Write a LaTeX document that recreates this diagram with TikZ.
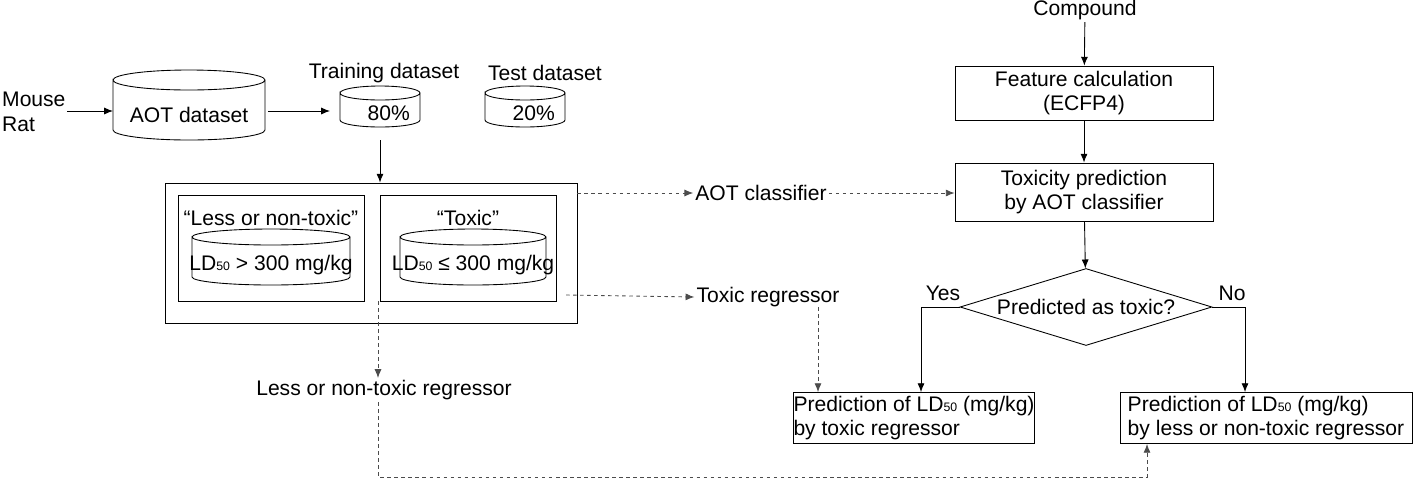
\documentclass[tikz,border=0pt]{standalone}
\usepackage{fontspec}
\setmainfont{Liberation Sans}
\usetikzlibrary{shapes.geometric,arrows.meta}
\newcommand{\mycyl}[7]{% name, cx, cy, w/2, h/2, ry, text
  \draw (#2-#4,#3-#5) arc[start angle=180,end angle=-180,x radius=#4*0.02cm,y radius=#6*0.02cm]
        -- (#2-#4,#3+#5-#6) arc[start angle=180,end angle=360,x radius=#4*0.02cm,y radius=#6*0.02cm]
        -- (#2+#4,#3-#5);
  \node[inner sep=0pt,minimum width=#4*0.04cm,minimum height=#5*0.04cm] (#1) at (#2,#3+#6/2) {#7};}
\begin{document}
\begin{tikzpicture}[x=0.02cm,y=-0.02cm,font=\fontsize{12}{14}\selectfont,
  line width=0.5pt,
  arr/.style={-{Latex[length=5pt,width=4pt]}},
  dsh/.style={arr,dash pattern=on 2pt off 2pt,gray!60!black},
  box/.style={draw,rectangle,inner sep=0pt},
  lbl/.style={inner sep=1pt}]
\useasboundingbox (0,0) rectangle (1416,481);
% left part
\node[lbl,align=left,anchor=west] (mr) at (0,112) {Mouse\\Rat};
\mycyl{aot}{189}{110}{76}{30}{10}{AOT dataset}
\node[lbl] (trl) at (384,73) {Training dataset};
\node[lbl] (tel) at (545,73) {Test dataset};
\mycyl{tr}{380}{110}{40}{17}{7}{\hspace{10pt}80\%}
\mycyl{te}{525}{110}{40}{17}{7}{\hspace{10pt}20\%}
\draw[arr] (67,111) -- (113,111);
\draw[arr] (268,111) -- (330,111);
\node[box,minimum width=8.24cm,minimum height=2.8cm] (outer) at (371,253) {};
\node[box,minimum width=3.72cm,minimum height=2.12cm] (lb) at (271,248) {};
\node[box,minimum width=3.52cm,minimum height=2.12cm] (rb) at (468,248) {};
\node[lbl] (lt) at (271,218) {``Less or non-toxic''};
\node[lbl] (rt) at (468,218) {``Toxic''};
\mycyl{lc}{271}{261}{79}{24}{8}{LD{\scriptsize 50} > 300 mg/kg}
\mycyl{rc}{473}{261}{73}{24}{8}{LD{\scriptsize 50} ≤ 300 mg/kg}
\draw[arr] (380,140) -- (outer.north -| 380,0);
% labels middle
\node[lbl] (aotc) at (761,193) {AOT classifier};
\node[lbl] (treg) at (768,297) {Toxic regressor};
\node[lbl] (lreg) at (384,390) {Less or non-toxic regressor};
% right column
\node[lbl] (comp) at (1085,10) {Compound};
\node[box,minimum width=5.16cm,minimum height=1.08cm,align=center] (feat) at (1084,93) {Feature calculation\\(ECFP4)};
\node[box,minimum width=5.16cm,minimum height=1.16cm,align=center] (tox) at (1084,192) {Toxicity prediction\\by AOT classifier};
\node[draw,diamond,aspect=3.26,inner sep=0pt,minimum width=5.04cm,minimum height=1.54cm] (dia) at (1086,307) {Predicted as toxic?};
\node[lbl] at (943,293) {Yes};
\node[lbl] at (1232,293) {No};
\node[box,minimum width=4.44cm,minimum height=1.02cm,align=left] (pt) at (914,418) {Prediction of LD{\scriptsize 50} (mg/kg)\\by toxic regressor};
\node[box,minimum width=5.84cm,minimum height=1.02cm,align=left] (pl) at (1266,418) {Prediction of LD{\scriptsize 50} (mg/kg)\\by less or non-toxic regressor};
\draw[arr] (comp) -- (feat);
\draw[arr] (feat) -- (tox);
\draw[arr] (tox) -- (dia);
\draw[arr] (dia.west) -- (921,307) -- (pt.north -| 921,0);
\draw[arr] (dia.east) -- (1245,307) -- (pl.north -| 1245,0);
% dashed
\draw[dsh] (outer.east |- 0,193) -- (aotc.west);
\draw[dsh] (aotc.east) -- (tox.west |- 0,193);
\draw[dsh] (566,295) coordinate (s1) -- (treg.west);
\draw[dsh] (818,307) -- (pt.north -| 818,0);
\draw[dsh] (378,301) -- (378,378);
\draw[dsh] (378,402) -- (378,477) -- (1147,477) -- (pl.south -| 1147,0);
\end{tikzpicture}
\end{document}
